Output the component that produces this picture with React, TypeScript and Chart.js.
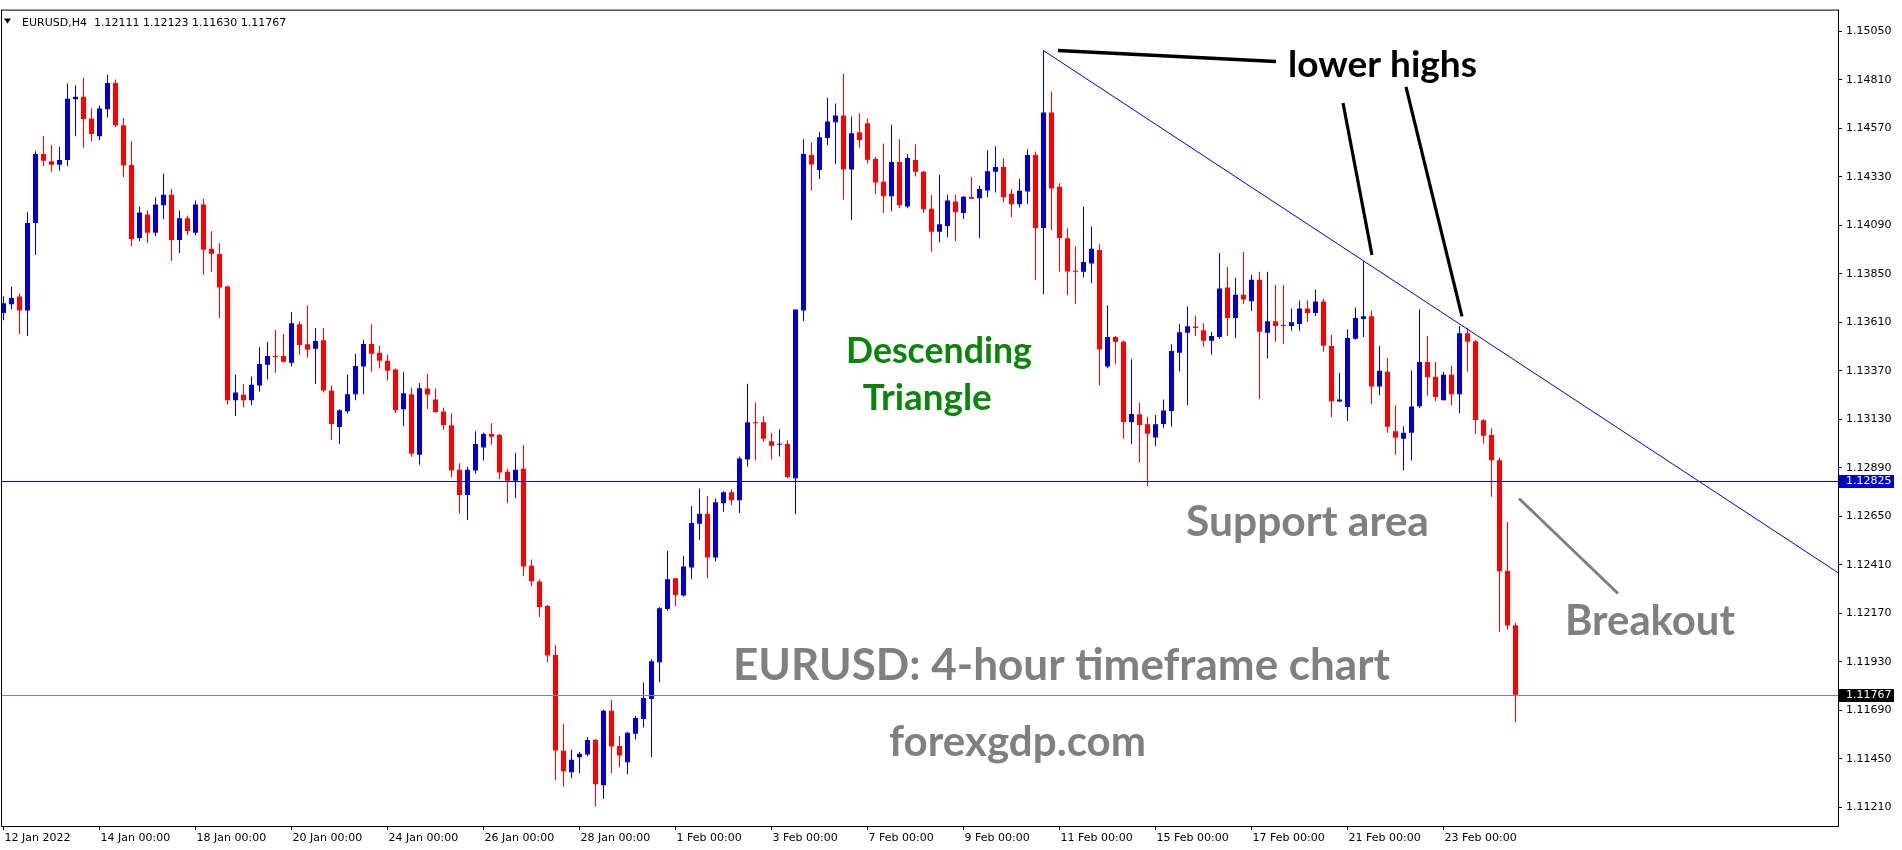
import React, { useEffect, useRef } from "react";
import { Chart, registerables } from "chart.js";

Chart.register(...registerables);

// ---------- DATA (EURUSD H4, one entry per bar, bar 0 = 12 Jan 2022 00:00) ----------
const opens = [
  1.13656, 1.13700, 1.13738, 1.13669, 1.14102, 1.14443, 1.14408, 1.14390, 1.14413, 1.14714,
  1.14727, 1.14619, 1.14531, 1.14665, 1.14795, 1.14585, 1.14389, 1.14027, 1.14144, 1.14053,
  1.14190, 1.14242, 1.14018, 1.14125, 1.14053, 1.14193, 1.13974, 1.13948, 1.13788, 1.13224,
  1.13252, 1.13224, 1.13298, 1.13400, 1.13443, 1.13443, 1.13410, 1.13600, 1.13502, 1.13479,
  1.13521, 1.13273, 1.13092, 1.13170, 1.13254, 1.13391, 1.13503, 1.13459, 1.13420, 1.13376,
  1.13180, 1.13254, 1.12955, 1.13282, 1.13228, 1.13169, 1.13101, 1.12880, 1.12755, 1.12877,
  1.12990, 1.13057, 1.13052, 1.12871, 1.12826, 1.12885, 1.12405, 1.12327, 1.12206, 1.11964,
  1.11489, 1.11383, 1.11457, 1.11471, 1.11543, 1.11319, 1.11687, 1.11513, 1.11432, 1.11574,
  1.11647, 1.11746, 1.11927, 1.12191, 1.12343, 1.12258, 1.12397, 1.12613, 1.12662, 1.12446,
  1.12715, 1.12769, 1.12730, 1.12931, 1.13114, 1.13115, 1.13022, 1.13004, 1.13008, 1.12838,
  1.13669, 1.14438, 1.14364, 1.14523, 1.14601, 1.14634, 1.14366, 1.14551, 1.14595, 1.14418,
  1.14306, 1.14234, 1.14404, 1.14183, 1.14413, 1.14355, 1.14172, 1.14058, 1.14087, 1.14208,
  1.14151, 1.14230, 1.14224, 1.14263, 1.14355, 1.14379, 1.14247, 1.14195, 1.14258, 1.14438,
  1.14077, 1.14649, 1.14281, 1.14026, 1.13865, 1.13860, 1.13901, 1.13968, 1.13391, 1.13537,
  1.13514, 1.13117, 1.13155, 1.13106, 1.13040, 1.13107, 1.13171, 1.13460, 1.13558, 1.13589,
  1.13571, 1.13519, 1.13537, 1.13782, 1.13631, 1.13747, 1.13715, 1.13821, 1.13558, 1.13615,
  1.13595, 1.13592, 1.13602, 1.13679, 1.13656, 1.13713, 1.13493, 1.13218, 1.13191, 1.13529,
  1.13627, 1.13640, 1.13293, 1.13365, 1.13071, 1.13034, 1.13063, 1.13195, 1.13414, 1.13341,
  1.13225, 1.13351, 1.13254, 1.13556, 1.13517, 1.13125, 1.13052, 1.12928, 1.12379, 1.12111,
];

const highs = [
  1.13739, 1.13788, 1.13754, 1.14155, 1.14457, 1.14532, 1.14488, 1.14479, 1.14792, 1.14782,
  1.14821, 1.14668, 1.14683, 1.14836, 1.14812, 1.14621, 1.14508, 1.14183, 1.14165, 1.14229,
  1.14346, 1.14271, 1.14164, 1.14139, 1.14213, 1.14222, 1.14061, 1.14002, 1.13793, 1.13352,
  1.13303, 1.13342, 1.13487, 1.13513, 1.13572, 1.13552, 1.13660, 1.13616, 1.13694, 1.13582,
  1.13582, 1.13298, 1.13180, 1.13352, 1.13454, 1.13523, 1.13601, 1.13494, 1.13449, 1.13381,
  1.13366, 1.13288, 1.13310, 1.13355, 1.13282, 1.13189, 1.13160, 1.12913, 1.12895, 1.13071,
  1.13063, 1.13111, 1.13057, 1.12885, 1.12964, 1.13003, 1.12436, 1.12338, 1.12211, 1.12013,
  1.11623, 1.11494, 1.11484, 1.11558, 1.11548, 1.11692, 1.11741, 1.11564, 1.11584, 1.11662,
  1.11827, 1.11942, 1.12201, 1.12480, 1.12343, 1.12454, 1.12701, 1.12787, 1.12750, 1.12738,
  1.12774, 1.12784, 1.12946, 1.13306, 1.13213, 1.13145, 1.13062, 1.13081, 1.13027, 1.13674,
  1.14516, 1.14502, 1.14551, 1.14722, 1.14693, 1.14841, 1.14629, 1.14645, 1.14619, 1.14428,
  1.14495, 1.14588, 1.14516, 1.14443, 1.14490, 1.14360, 1.14240, 1.14340, 1.14242, 1.14242,
  1.14236, 1.14330, 1.14286, 1.14462, 1.14482, 1.14422, 1.14270, 1.14320, 1.14467, 1.14456,
  1.14956, 1.14753, 1.14298, 1.14075, 1.13987, 1.14183, 1.14085, 1.13997, 1.13695, 1.13542,
  1.13522, 1.13427, 1.13212, 1.13143, 1.13151, 1.13228, 1.13502, 1.13600, 1.13689, 1.13644,
  1.13605, 1.13563, 1.13953, 1.13884, 1.13831, 1.13958, 1.13845, 1.13860, 1.13860, 1.13796,
  1.13796, 1.13679, 1.13718, 1.13718, 1.13772, 1.13726, 1.13547, 1.13360, 1.13576, 1.13684,
  1.13912, 1.13669, 1.13493, 1.13434, 1.13200, 1.13096, 1.13372, 1.13674, 1.13542, 1.13414,
  1.13364, 1.13395, 1.13592, 1.13584, 1.13522, 1.13132, 1.13086, 1.12941, 1.12622, 1.12123,
];

const lows = [
  1.13620, 1.13674, 1.13552, 1.13542, 1.13943, 1.14384, 1.14355, 1.14360, 1.14384, 1.14531,
  1.14474, 1.14506, 1.14511, 1.14624, 1.14577, 1.14330, 1.13987, 1.14012, 1.14002, 1.14036,
  1.14120, 1.13914, 1.13953, 1.14041, 1.14041, 1.13845, 1.13860, 1.13632, 1.13203, 1.13146,
  1.13190, 1.13200, 1.13268, 1.13327, 1.13361, 1.13410, 1.13391, 1.13449, 1.13435, 1.13306,
  1.13263, 1.13028, 1.13009, 1.13157, 1.13224, 1.13254, 1.13366, 1.13381, 1.13322, 1.13161,
  1.13097, 1.12945, 1.12905, 1.13181, 1.13161, 1.13078, 1.12843, 1.12662, 1.12632, 1.12861,
  1.12926, 1.13004, 1.12833, 1.12715, 1.12740, 1.12353, 1.12304, 1.12152, 1.11927, 1.11344,
  1.11313, 1.11354, 1.11378, 1.11461, 1.11212, 1.11251, 1.11378, 1.11408, 1.11373, 1.11545,
  1.11604, 1.11457, 1.11829, 1.12182, 1.12206, 1.12253, 1.12338, 1.12534, 1.12343, 1.12426,
  1.12673, 1.12706, 1.12666, 1.12897, 1.12926, 1.13019, 1.12931, 1.12946, 1.12838, 1.12661,
  1.13617, 1.14263, 1.14320, 1.14487, 1.14394, 1.14218, 1.14116, 1.14474, 1.14396, 1.14244,
  1.14151, 1.14160, 1.14175, 1.14175, 1.14332, 1.14151, 1.13960, 1.14007, 1.14031, 1.14013,
  1.14121, 1.14221, 1.14028, 1.14229, 1.14253, 1.14204, 1.14131, 1.14178, 1.14195, 1.13818,
  1.13749, 1.14067, 1.13862, 1.13744, 1.13702, 1.13832, 1.13803, 1.13298, 1.13383, 1.13403,
  1.13034, 1.13006, 1.12916, 1.12799, 1.12998, 1.13088, 1.13094, 1.13367, 1.13200, 1.13543,
  1.13489, 1.13450, 1.13529, 1.13543, 1.13533, 1.13700, 1.13666, 1.13230, 1.13431, 1.13514,
  1.13504, 1.13568, 1.13568, 1.13612, 1.13641, 1.13465, 1.13142, 1.13216, 1.13122, 1.13524,
  1.13538, 1.13205, 1.13249, 1.13063, 1.12955, 1.12877, 1.12926, 1.13186, 1.13248, 1.13220,
  1.13225, 1.13200, 1.13161, 1.13367, 1.13058, 1.13009, 1.12747, 1.12079, 1.12089, 1.11630,
];

const closes = [
  1.13705, 1.13731, 1.13669, 1.14102, 1.14443, 1.14410, 1.14390, 1.14413, 1.14717, 1.14727,
  1.14616, 1.14542, 1.14668, 1.14795, 1.14585, 1.14386, 1.14023, 1.14154, 1.14053, 1.14193,
  1.14242, 1.14018, 1.14125, 1.14062, 1.14193, 1.13969, 1.13950, 1.13783, 1.13224, 1.13263,
  1.13224, 1.13301, 1.13404, 1.13443, 1.13438, 1.13415, 1.13606, 1.13498, 1.13474, 1.13518,
  1.13273, 1.13107, 1.13175, 1.13254, 1.13394, 1.13503, 1.13454, 1.13420, 1.13371, 1.13175,
  1.13259, 1.12960, 1.13284, 1.13253, 1.13166, 1.13102, 1.12877, 1.12755, 1.12880, 1.13008,
  1.13057, 1.13044, 1.12867, 1.12826, 1.12880, 1.12402, 1.12328, 1.12201, 1.11961, 1.11491,
  1.11388, 1.11445, 1.11475, 1.11543, 1.11324, 1.11687, 1.11510, 1.11466, 1.11579, 1.11651,
  1.11750, 1.11932, 1.12195, 1.12338, 1.12260, 1.12402, 1.12617, 1.12662, 1.12446, 1.12720,
  1.12769, 1.12730, 1.12936, 1.13115, 1.13110, 1.13034, 1.12999, 1.13009, 1.12844, 1.13674,
  1.14443, 1.14391, 1.14526, 1.14604, 1.14634, 1.14366, 1.14546, 1.14513, 1.14415, 1.14302,
  1.14234, 1.14404, 1.14190, 1.14423, 1.14356, 1.14170, 1.14058, 1.14095, 1.14213, 1.14155,
  1.14232, 1.14222, 1.14270, 1.14358, 1.14379, 1.14229, 1.14195, 1.14262, 1.14438, 1.14077,
  1.14649, 1.14273, 1.14028, 1.13862, 1.13860, 1.13909, 1.13974, 1.13475, 1.13537, 1.13514,
  1.13117, 1.13156, 1.13102, 1.13058, 1.13106, 1.13174, 1.13468, 1.13561, 1.13591, 1.13582,
  1.13519, 1.13542, 1.13777, 1.13631, 1.13747, 1.13723, 1.13821, 1.13563, 1.13615, 1.13592,
  1.13592, 1.13610, 1.13679, 1.13656, 1.13713, 1.13494, 1.13220, 1.13228, 1.13532, 1.13631,
  1.13640, 1.13293, 1.13370, 1.13093, 1.13039, 1.13063, 1.13194, 1.13414, 1.13338, 1.13240,
  1.13351, 1.13254, 1.13556, 1.13514, 1.13127, 1.13049, 1.12928, 1.12378, 1.12110, 1.11767,
];

const xTickIndex = [0, 12, 24, 36, 48, 60, 72, 84, 96, 108, 120, 132, 144, 156, 168, 180];
const xTickLabels = [
  "12 Jan 2022", "14 Jan 00:00", "18 Jan 00:00", "20 Jan 00:00", "24 Jan 00:00", "26 Jan 00:00",
  "28 Jan 00:00", "1 Feb 00:00", "3 Feb 00:00", "7 Feb 00:00", "9 Feb 00:00", "11 Feb 00:00",
  "15 Feb 00:00", "17 Feb 00:00", "21 Feb 00:00", "23 Feb 00:00",
];
const yTickValues = [
  1.1121, 1.1145, 1.1169, 1.1193, 1.1217, 1.1241, 1.1265, 1.1289, 1.1313,
  1.1337, 1.1361, 1.1385, 1.1409, 1.1433, 1.1457, 1.1481, 1.1505,
];

const headerText = "EURUSD,H4  1.12111 1.12123 1.11630 1.11767";
const supportLevel = 1.12825;
const bidLevel = 1.11767;
const trendLine: [number, number][] = [[129.97, 1.14956], [229.31, 1.12371]];

const pointerLines = [
  { from: [131.81, 1.14955], to: [159.06, 1.14901], color: "#000000", width: 3.5 },
  { from: [167.44, 1.14696], to: [171.06, 1.13943], color: "#000000", width: 3.2 },
  { from: [175.31, 1.14776], to: [182.31, 1.1364], color: "#000000", width: 3.2 },
  { from: [189.44, 1.12738], to: [201.81, 1.12268], color: "#808080", width: 3 },
];

const GREEN = "#0b840b";
const GRAY = "#808080";
const textNotes = [
  { text: "lower highs", at: [172.375, 1.14825], width: 189, color: "#000000" },
  { text: "Descending", at: [116.93, 1.13408], width: 186, color: GREEN },
  { text: "Triangle", at: [115.46, 1.13176], width: 129, color: GREEN },
  { text: "Support area", at: [163.0, 1.12552], width: 243, color: GRAY },
  { text: "Breakout", at: [205.81, 1.12062], width: 170, color: GRAY },
  { text: "EURUSD: 4-hour timeframe chart", at: [132.25, 1.1184], width: 657, color: GRAY },
  { text: "forexgdp.com", at: [126.75, 1.11465], width: 257, color: GRAY },
];

// ---------- STYLE ----------
const BULL = "#0000cc";
const BEAR = "#ff0000";
const LINE_BLUE = "#0000cc";
const TREND_BLUE = "#0000dd";
const BID_GRAY = "#778899";
const AXIS_FONT = "DejaVu Sans";

const overlayPlugin = {
  id: "mt4overlay",
  afterDatasetsDraw(chart: any) {
    const { ctx, chartArea, scales } = chart;
    const xs = scales.x;
    const ys = scales.y;
    const px = (v: number) => xs.getPixelForValue(v);
    const py = (v: number) => ys.getPixelForValue(v);

    ctx.save();
    ctx.beginPath();
    ctx.rect(chartArea.left, chartArea.top, chartArea.right - chartArea.left, chartArea.bottom - chartArea.top);
    ctx.clip();

    // horizontal levels
    const hline = (val: number, color: string) => {
      const y = Math.round(py(val)) + 0.5;
      ctx.strokeStyle = color;
      ctx.lineWidth = 1;
      ctx.beginPath();
      ctx.moveTo(chartArea.left, y);
      ctx.lineTo(chartArea.right, y);
      ctx.stroke();
    };
    hline(supportLevel, LINE_BLUE);
    hline(bidLevel, BID_GRAY);

    // trend line
    ctx.strokeStyle = TREND_BLUE;
    ctx.lineWidth = 1;
    ctx.beginPath();
    ctx.moveTo(px(trendLine[0][0]), py(trendLine[0][1]));
    ctx.lineTo(px(trendLine[1][0]), py(trendLine[1][1]));
    ctx.stroke();

    // pointer lines
    for (const l of pointerLines) {
      ctx.strokeStyle = l.color;
      ctx.lineWidth = l.width;
      ctx.lineCap = "butt";
      ctx.beginPath();
      ctx.moveTo(px(l.from[0]), py(l.from[1]));
      ctx.lineTo(px(l.to[0]), py(l.to[1]));
      ctx.stroke();
    }

    // text notes, sized so that each spans its measured width
    for (const n of textNotes) {
      ctx.font = `700 100px Lato`;
      const w = ctx.measureText(n.text).width;
      const size = (100 * n.width) / w;
      ctx.font = `700 ${size.toFixed(2)}px Lato`;
      ctx.fillStyle = n.color;
      ctx.textAlign = "center";
      ctx.textBaseline = "alphabetic";
      ctx.fillText(n.text, px(n.at[0]), py(n.at[1]));
    }

    // header
    ctx.fillStyle = "#000";
    ctx.beginPath();
    ctx.moveTo(chartArea.left + 2, chartArea.top + 8);
    ctx.lineTo(chartArea.left + 9, chartArea.top + 8);
    ctx.lineTo(chartArea.left + 5.5, chartArea.top + 13);
    ctx.closePath();
    ctx.fill();
    ctx.font = `11px ${AXIS_FONT}`;
    ctx.textAlign = "left";
    ctx.textBaseline = "alphabetic";
    ctx.fillText(headerText, chartArea.left + 20, chartArea.top + 15);
    ctx.restore();
  },
  afterDraw(chart: any) {
    const { ctx, chartArea, scales } = chart;
    const ys = scales.y;
    ctx.save();
    // frame
    ctx.strokeStyle = "#000";
    ctx.lineWidth = 1;
    ctx.strokeRect(chartArea.left - 0.5, chartArea.top - 0.5, chartArea.right - chartArea.left + 1, chartArea.bottom - chartArea.top + 1);

    // price boxes on the axis
    const box = (val: number, bg: string) => {
      const y = Math.round(ys.getPixelForValue(val));
      ctx.fillStyle = bg;
      ctx.fillRect(chartArea.right + 1, y - 6, 55, 13);
      ctx.fillStyle = "#fff";
      ctx.font = `11px ${AXIS_FONT}`;
      ctx.textAlign = "left";
      ctx.textBaseline = "middle";
      ctx.fillText(val.toFixed(5), chartArea.right + 8, y + 0.5);
    };
    box(supportLevel, LINE_BLUE);
    box(bidLevel, "#000000");
    ctx.restore();
  },
};

export default function App() {
  const ref = useRef<HTMLCanvasElement | null>(null);

  useEffect(() => {
    if (!ref.current) return;
    const colors = closes.map((c, i) => (c >= opens[i] ? BULL : BEAR));
    const chart = new Chart(ref.current, {
      type: "bar",
      data: {
        datasets: [
          {
            label: "body",
            stack: "c",
            data: opens.map((o, i) => ({ x: i, y: [o, closes[i]] })) as any,
            backgroundColor: colors,
            barThickness: 5,
            minBarLength: 1,
            borderWidth: 0,
            inflateAmount: 0,
          } as any,
          {
            label: "wick",
            stack: "c",
            data: lows.map((l, i) => ({ x: i, y: [l, highs[i]] })) as any,
            backgroundColor: colors,
            barThickness: 1,
            minBarLength: 1,
            borderWidth: 0,
            inflateAmount: 0,
          } as any,
        ],
      },
      options: {
        animation: false,
        responsive: false,
        events: [],
        layout: { padding: { left: 2, top: 2, right: 0, bottom: 0 } },
        plugins: { legend: { display: false }, tooltip: { enabled: false } },
        scales: {
          x: {
            type: "linear",
            position: "bottom",
            min: -0.1875,
            max: 229.3125,
            stacked: true,
            offset: false,
            grid: { display: true, offset: false, drawOnChartArea: false, drawTicks: true, tickLength: 4, color: "#000" },
            border: { display: true, color: "#000" },
            ticks: {
              autoSkip: false,
              maxRotation: 0,
              minRotation: 0,
              align: "start",
              labelOffset: 1,
              padding: 2,
              color: "#000",
              font: { family: AXIS_FONT, size: 11 },
              callback: (v: any) => {
                const k = xTickIndex.indexOf(Number(v));
                return k >= 0 ? xTickLabels[k] : "";
              },
            },
            afterBuildTicks: (s: any) => {
              s.ticks = xTickIndex.map((v) => ({ value: v }));
            },
            afterFit: (s: any) => {
              s.height = 24;
            },
          } as any,
          y: {
            type: "linear",
            position: "right",
            min: 1.11117,
            max: 1.151531,
            stacked: false,
            grid: { drawOnChartArea: false, drawTicks: true, tickLength: 4, color: "#000" },
            border: { display: true, color: "#000" },
            ticks: {
              autoSkip: false,
              padding: 4,
              color: "#000",
              font: { family: AXIS_FONT, size: 11 },
              callback: (v: any) => Number(v).toFixed(5),
            },
            afterBuildTicks: (s: any) => {
              s.ticks = yTickValues.map((v) => ({ value: v }));
            },
            afterFit: (s: any) => {
              s.width = 64;
            },
          } as any,
        },
      },
      plugins: [overlayPlugin],
    });
    return () => chart.destroy();
  }, []);

  return (
    <div style={{ position: "absolute", left: 0, top: 0, width: 1902, height: 850, background: "#fff" }}>
      <canvas ref={ref} width={1902} height={850} style={{ display: "block" }} />
    </div>
  );
}
